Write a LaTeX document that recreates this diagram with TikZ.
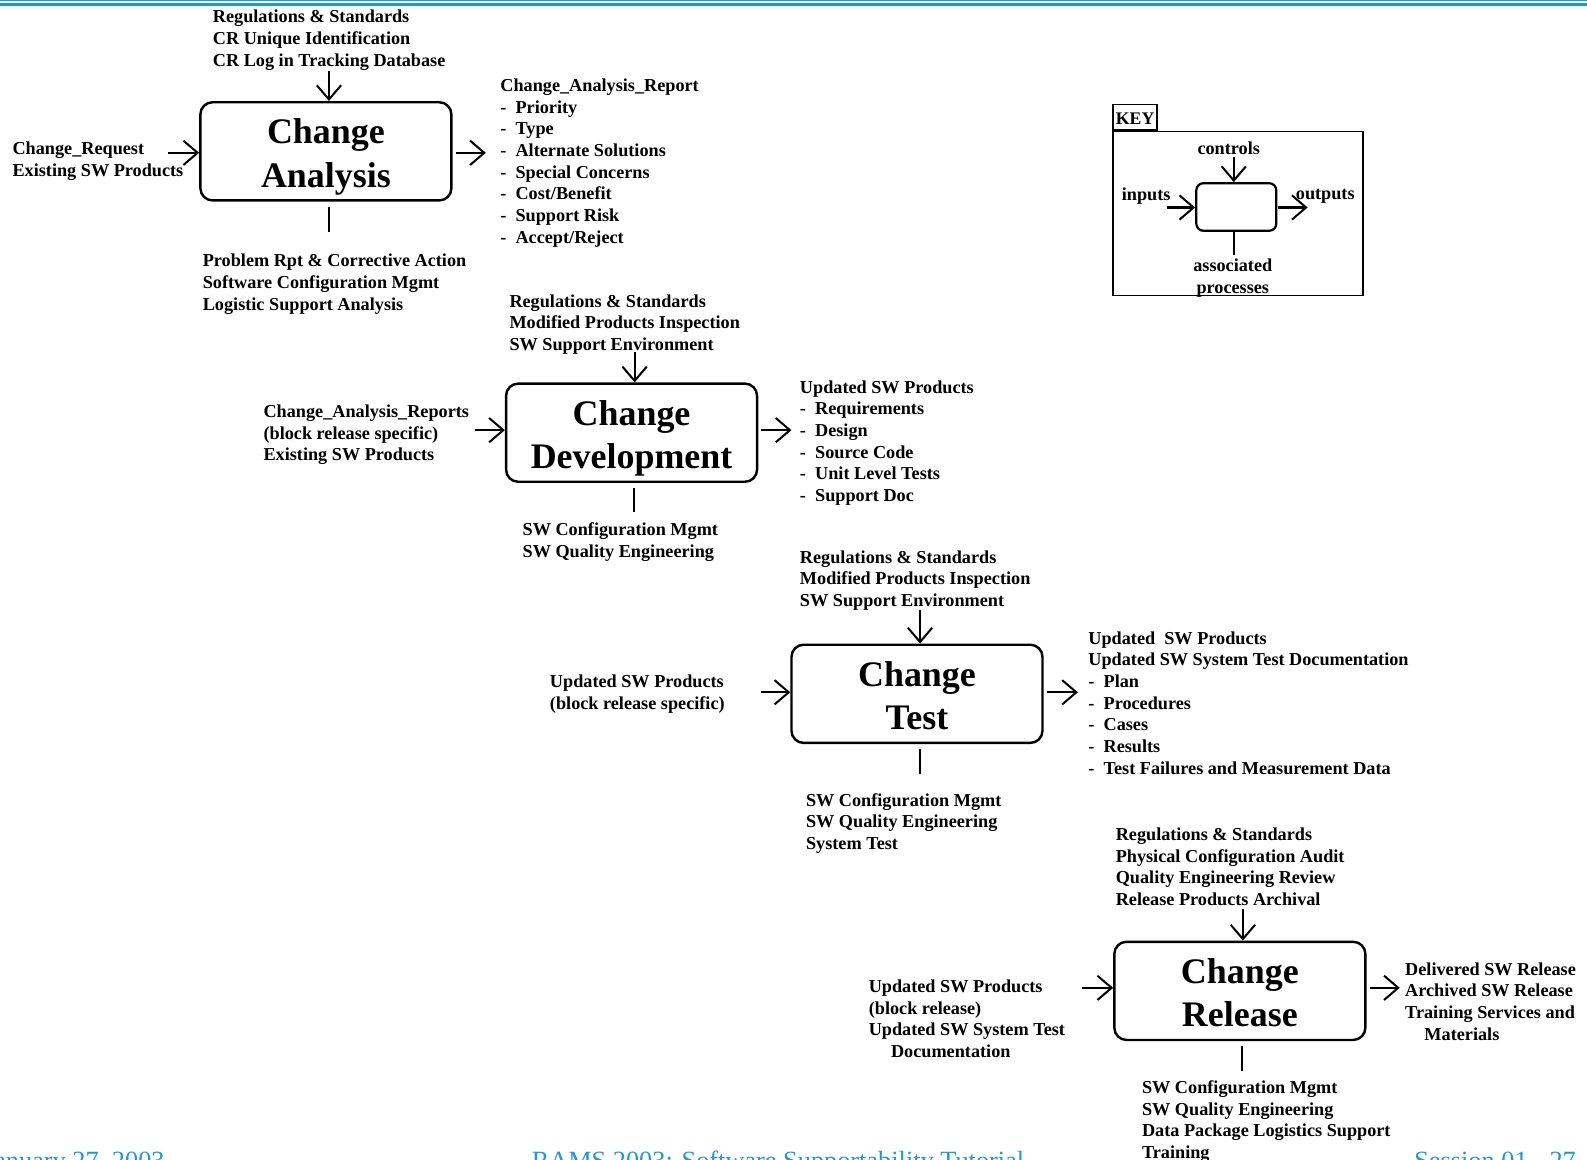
\documentclass[tikz,border=0pt]{standalone}
\usepackage{fontspec}
\setmainfont{Liberation Serif}
\usetikzlibrary{arrows.meta}
\definecolor{slideblue}{RGB}{25,155,215}
\newcommand{\dashitem}[1]{\makebox[7.5pt][l]{-}#1}

\begin{document}
\begin{tikzpicture}[x=0.5pt,y=-0.5pt,
  % multi-line labels are placed by the baseline of their last line
  lbl/.style={font=\fontsize{9pt}{10.7pt}\selectfont\bfseries, align=left, anchor=base west, inner sep=0pt, yshift=-0.75pt},
  activity/.style={draw, line width=1.2pt, rounded corners=6pt, minimum width=124pt, minimum height=48.5pt,
    align=center, font=\fontsize{17.75pt}{21.5pt}\selectfont\bfseries, text height=35.5pt, text depth=0pt, inner sep=0pt},
  flow/.style={line width=1pt, -{Straight Barb[length=7pt,width=12pt,line width=1pt]}},
  link/.style={line width=1pt},
  footer/.style={font=\fontsize{13pt}{15pt}\selectfont, text=slideblue, anchor=base west, inner sep=0pt}]

\useasboundingbox (0,0) rectangle (1568,1146);

% slide header rules
\draw[slideblue, line width=0.6pt] (0,0.6) coordinate (hr1a) -- (1568,0.6) coordinate (hr1b);
\draw[slideblue, line width=1.2pt] (0,4.5) coordinate (hr2a) -- (1568,4.5) coordinate (hr2b);

% ---------- Change Analysis ----------
\node[activity] (ca) at (322,149.5) {Change\\Analysis};
\node[lbl] (ca-c) at (210,63.8) {Regulations \& Standards\\CR Unique Identification\\CR Log in Tracking Database};
\node[lbl] (ca-i) at (12,172.4) {Change\_Request\\Existing SW Products};
\node[lbl] (ca-o) at (494,238.8) {Change\_Analysis\_Report\\\dashitem{Priority}\\\dashitem{Type}\\\dashitem{Alternate Solutions}\\\dashitem{Special Concerns}\\\dashitem{Cost/Benefit}\\\dashitem{Support Risk}\\\dashitem{Accept/Reject}};
\node[lbl] (ca-p) at (200,304.8) {Problem Rpt \& Corrective Action\\Software Configuration Mgmt\\Logistic Support Analysis};
\coordinate (ca-ctl) at (325,70);
\coordinate (ca-in) at (166,151);
\coordinate (ca-out) at (480,151);
\coordinate (ca-proc) at (325,229);
\draw[flow] (ca-ctl) -- (ca-ctl |- ca.north);
\draw[flow] (ca-in) -- (ca-in -| ca.west);
\draw[flow] ([xshift=1.5pt]ca-out -| ca.east) -- (ca-out);
\draw[link] ([yshift=-2.5pt]ca-proc |- ca.south) -- (ca-proc);

% ---------- Change Development ----------
\node[activity] (cd) at (624,427.5) {Change\\Development};
\node[lbl] (cd-c) at (503,344.8) {Regulations \& Standards\\Modified Products Inspection\\SW Support Environment};
\node[lbl] (cd-i) at (260,453.8) {Change\_Analysis\_Reports\\(block release specific)\\Existing SW Products};
\node[lbl] (cd-o) at (790,494) {Updated SW Products\\\dashitem{Requirements}\\\dashitem{Design}\\\dashitem{Source Code}\\\dashitem{Unit Level Tests}\\\dashitem{Support Doc}};
\node[lbl] (cd-p) at (516,549.4) {SW Configuration Mgmt\\SW Quality Engineering};
\coordinate (cd-ctl) at (627,348);
\coordinate (cd-in) at (469,425);
\coordinate (cd-out) at (782,425);
\coordinate (cd-proc) at (626,506);
\draw[flow] (cd-ctl) -- (cd-ctl |- cd.north);
\draw[flow] (cd-in) -- (cd-in -| cd.west);
\draw[flow] ([xshift=1.5pt]cd-out -| cd.east) -- (cd-out);
\draw[link] ([yshift=-2.5pt]cd-proc |- cd.south) -- (cd-proc);

% ---------- Change Test ----------
\node[activity] (ct) at (906,685.5) {Change\\Test};
\node[lbl] (ct-c) at (790,597.8) {Regulations \& Standards\\Modified Products Inspection\\SW Support Environment};
\node[lbl] (ct-i) at (543,699.4) {Updated SW Products\\(block release specific)};
\node[lbl] (ct-o) at (1075,763.4) {Updated~ SW Products\\Updated SW System Test Documentation\\\dashitem{Plan}\\\dashitem{Procedures}\\\dashitem{Cases}\\\dashitem{Results}\\\dashitem{Test Failures and Measurement Data}};
\node[lbl] (ct-p) at (796,837.8) {SW Configuration Mgmt\\SW Quality Engineering\\System Test};
\coordinate (ct-ctl) at (909,603);
\coordinate (ct-in) at (752,684);
\coordinate (ct-out) at (1065,684);
\coordinate (ct-proc) at (909,765);
\draw[flow] (ct-ctl) -- (ct-ctl |- ct.north);
\draw[flow] (ct-in) -- (ct-in -| ct.west);
\draw[flow] ([xshift=1.5pt]ct-out -| ct.east) -- (ct-out);
\draw[link] ([yshift=-2.5pt]ct-proc |- ct.south) -- (ct-proc);

% ---------- Change Release ----------
\node[activity] (cr) at (1225,979) {Change\\Release};
\node[lbl] (cr-c) at (1102,893.2) {Regulations \& Standards\\Physical Configuration Audit\\Quality Engineering Review\\Release Products Archival};
\node[lbl] (cr-i) at (858,1043.2) {Updated SW Products\\(block release)\\Updated SW System Test\\\hspace*{11pt}Documentation};
\node[lbl] (cr-o) at (1388,1026.2) {Delivered SW Release\\Archived SW Release\\Training Services and\\\hspace*{9.5pt}Materials};
\node[lbl] (cr-p) at (1128,1143.2) {SW Configuration Mgmt\\SW Quality Engineering\\Data Package Logistics Support\\Training};
\coordinate (cr-ctl) at (1228,898);
\coordinate (cr-in) at (1069,976);
\coordinate (cr-out) at (1383,976);
\coordinate (cr-proc) at (1227,1058);
\draw[flow] (cr-ctl) -- (cr-ctl |- cr.north);
\draw[flow] (cr-in) -- (cr-in -| cr.west);
\draw[flow] ([xshift=1.5pt]cr-out -| cr.east) -- (cr-out);
\draw[link] ([yshift=-2.5pt]cr-proc |- cr.south) -- (cr-proc);

% ---------- Key ----------
\node[draw, line width=0.9pt, minimum width=123.5pt, minimum height=81pt, inner sep=0pt] (key) at (1223.5,211) {};
\node[draw, line width=0.9pt, minimum width=21.5pt, minimum height=12.5pt, inner sep=0pt, anchor=south west,
      font=\fontsize{8.75pt}{10pt}\selectfont\bfseries, text height=7pt, text depth=0pt] (keytab) at (key.north west) {KEY};
\node[draw, line width=1.1pt, rounded corners=3.5pt, minimum width=39.5pt, minimum height=23.5pt, inner sep=0pt] (kb) at (1221.5,204.5) {};
\node[lbl, anchor=base] (k-c) at (1214,151) {controls};
\node[lbl] (k-i) at (1108,197) {inputs};
\node[lbl] (k-o) at (1280,196) {outputs};
\node[lbl, anchor=base, align=center] (k-p) at (1218,288.4) {associated\\processes};
\coordinate (k-ctl) at (1219,155);
\coordinate (k-in) at (1153,205);
\coordinate (k-out) at (1292,205);
\coordinate (k-proc) at (1219,252);
\draw[flow] (k-ctl) -- (k-ctl |- kb.north);
\draw[flow] (k-in) -- (k-in -| kb.west);
\draw[flow] ([xshift=0.5pt]k-out -| kb.east) -- (k-out);
\draw[link] (k-proc |- kb.south) -- (k-proc);

% ---------- footer ----------
\node[footer, anchor=base east] (f-date) at (163,1155) {January 27, 2003};
\node[footer] (f-title) at (525,1155) {RAMS 2003: Software Supportability Tutorial};
\node[footer] (f-page) at (1397,1155) {Session 01 - 27};

\end{tikzpicture}
\end{document}
